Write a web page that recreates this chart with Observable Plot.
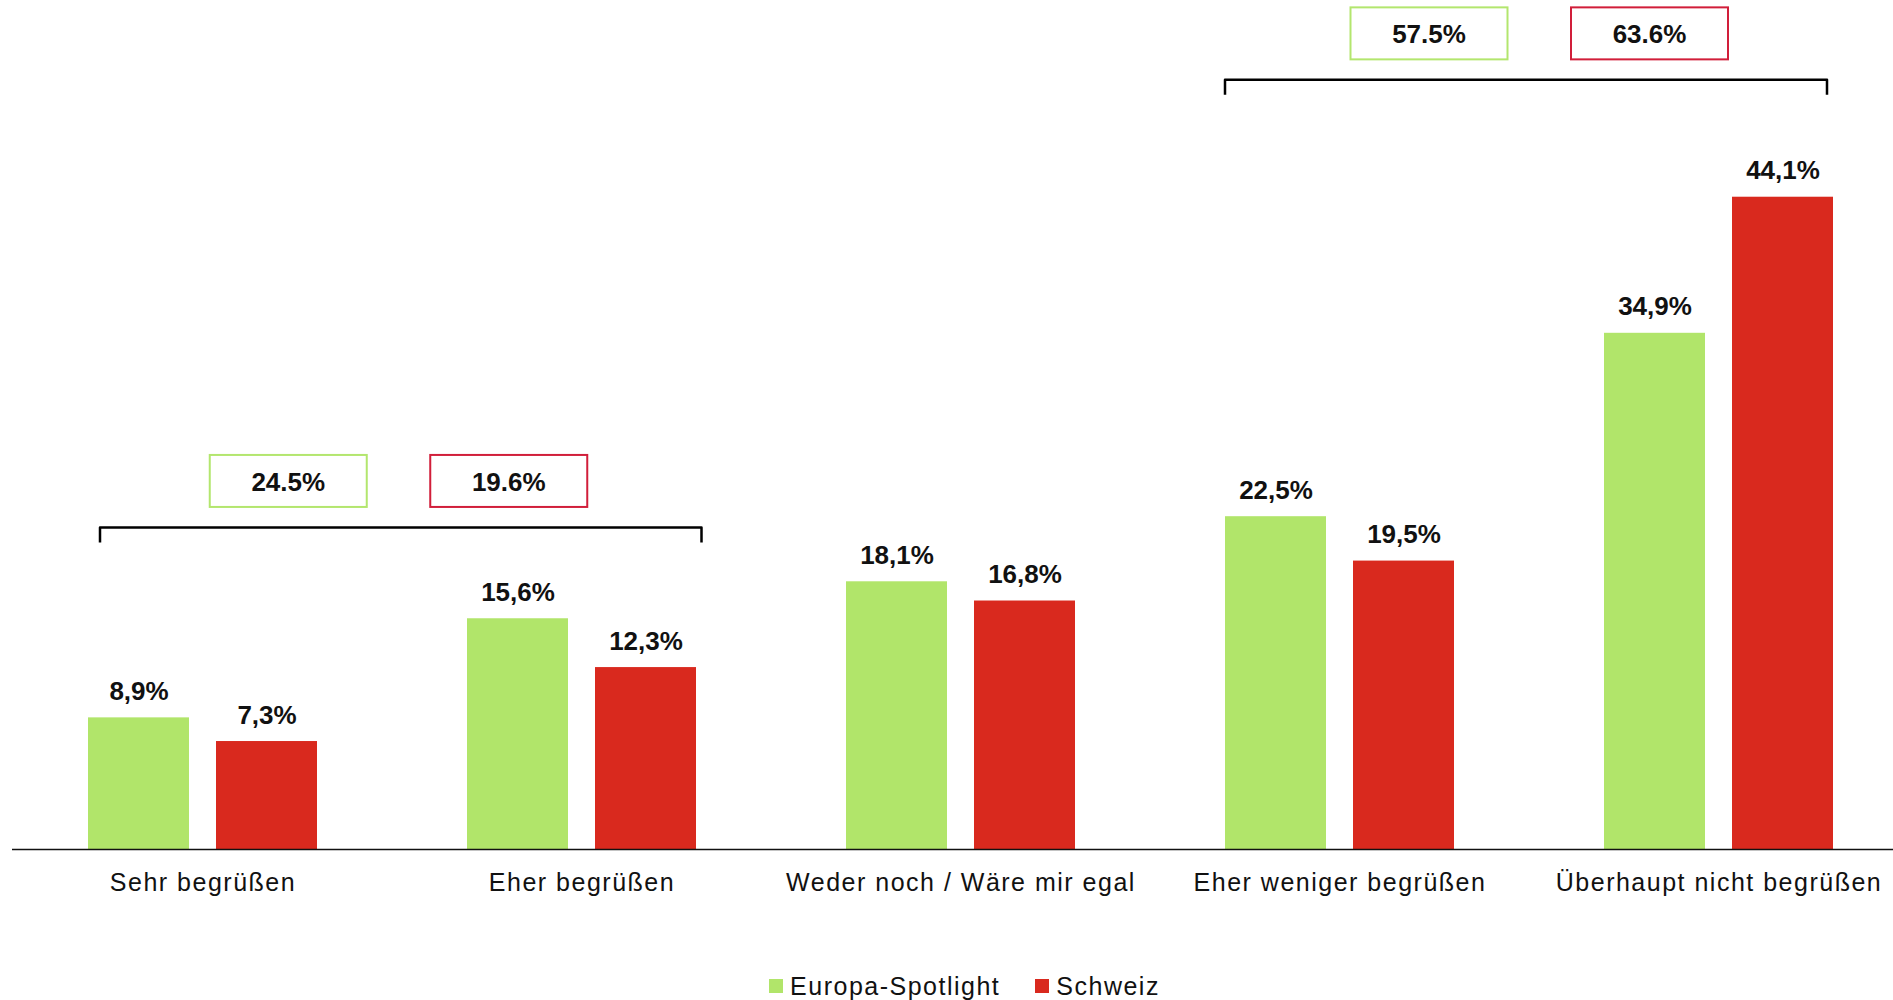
<!DOCTYPE html>
<html>
<head>
<meta charset="utf-8">
<script src="https://cdn.jsdelivr.net/npm/d3@7"></script>
<script src="https://cdn.jsdelivr.net/npm/@observablehq/plot@0.6"></script>
<style>
  html, body { margin: 0; padding: 0; background: #fff; overflow: hidden; }
  #chart svg { display: block; }
  #chart svg [aria-label="x-axis tick label"] text { letter-spacing: 1.5px; }
  #legend { height: 28px; padding-top: 12px; padding-left: 36px; display: flex; justify-content: center; align-items: center; }
  #legend div { display: flex; justify-content: center; align-items: center; margin: 0; min-height: 0;
    font-family: "Liberation Sans", Arial, sans-serif; font-size: 25px; letter-spacing: 1.5px; color: #111; }
  #legend span { margin-right: 35px; display: inline-flex; align-items: center; }
  #legend span:last-child { margin-right: 0; }
  #legend svg { margin-right: 7px; }
</style>
</head>
<body>
<div id="chart"></div>
<div id="legend"></div>
<script>
// ---- data ----
const categories = ["Sehr begrüßen", "Eher begrüßen", "Weder noch / Wäre mir egal", "Eher weniger begrüßen", "Überhaupt nicht begrüßen"];
const series = ["Europa-Spotlight", "Schweiz"];
const europa = [8.9, 15.6, 18.1, 22.5, 34.9];
const schweiz = [7.3, 12.3, 16.8, 19.5, 44.1];
const summaryGroups = [["Sehr begrüßen", "Eher begrüßen"], ["Eher weniger begrüßen", "Überhaupt nicht begrüßen"]];
const summaryEuropa = ["24.5%", "57.5%"];
const summarySchweiz = ["19.6%", "63.6%"];
const colors = ["#b1e56a", "#d9291e"];
const boxColors = ["#b3e66e", "#d11e3a"];

const rows = categories.flatMap((c, i) => [
  {category: c, series: series[0], value: europa[i]},
  {category: c, series: series[1], value: schweiz[i]}
]);
const rowsE = rows.filter(d => d.series === series[0]);
const rowsS = rows.filter(d => d.series === series[1]);
const fmt = v => v.toFixed(1).replace(".", ",") + "%";

const FONT = "'Liberation Sans', Arial, sans-serif";

// bracket + summary box layout
const bracketLevel = [21.74, 52.0];      // y level (data units)
const bracketAdjust = [[12, 5.5], [0, -6]];
const boxShift = [-2, 13.5];

function summaryMark(index, scales) {
  const x = scales.x, y = scales.y;
  const bw = x.bandwidth();
  const g = d3.create("svg:g");
  summaryGroups.forEach((pair, k) => {
    const x0 = x(pair[0]) + bracketAdjust[k][0];
    const x1 = x(pair[1]) + bw + bracketAdjust[k][1];
    const yb = y(bracketLevel[k]);
    g.append("path")
      .attr("d", `M${x0},${yb + 15}V${yb}H${x1}V${yb + 15}`)
      .attr("fill", "none").attr("stroke", "#000").attr("stroke-width", 2.5)
      .attr("stroke-linejoin", "round");
    const cx = (x0 + x1) / 2 + boxShift[k];
    const cy = yb - 46.5;
    [[summaryEuropa[k], boxColors[0], -110.5], [summarySchweiz[k], boxColors[1], 110]].forEach(([label, col, off]) => {
      g.append("rect")
        .attr("x", cx + off - 78.5).attr("y", cy - 26)
        .attr("width", 157).attr("height", 52)
        .attr("fill", "white").attr("stroke", col).attr("stroke-width", 2);
      g.append("text")
        .attr("x", cx + off).attr("y", cy + 10)
        .attr("text-anchor", "middle")
        .attr("font-family", FONT).attr("font-size", 26).attr("font-weight", "bold")
        .attr("fill", "#111")
        .text(label);
    });
  });
  return g.node();
}

const chart = Plot.plot({
  width: 1893,
  height: 960,
  marginTop: 0,
  marginBottom: 111,
  marginLeft: 12,
  marginRight: 0,
  style: {fontFamily: FONT, background: "white", color: "#111"},
  x: {domain: categories, range: [11.75, 1909.25], paddingInner: 0.3966, paddingOuter: 0.1983, label: null},
  y: {domain: [0, 57.4], axis: null},
  color: {domain: series, range: colors},
  marks: [
    Plot.barY(rowsE, {x: "category", y: "value", fill: "series", insetRight: 128}),
    Plot.barY(rowsS, {x: "category", y: "value", fill: "series", insetLeft: 128}),
    Plot.text(rowsE, {x: "category", y: "value", text: d => fmt(d.value), dx: -64, dy: -18, lineAnchor: "bottom", fontWeight: "bold", fontSize: 26, fill: "#111"}),
    Plot.text(rowsS, {x: "category", y: "value", text: d => fmt(d.value), dx: 64, dy: -18, lineAnchor: "bottom", fontWeight: "bold", fontSize: 26, fill: "#111"}),
    Plot.ruleY([0], {stroke: "#111", strokeWidth: 1.5}),
    Plot.axisX({tickSize: 0, tickPadding: 24, fontSize: 25, label: null, fill: "#111"}),
    summaryMark
  ]
});
document.getElementById("chart").append(chart);

const legend = Plot.legend({color: {domain: series, range: colors}, legend: "swatches", swatchSize: 14});
document.getElementById("legend").append(legend);
</script>
</body>
</html>
